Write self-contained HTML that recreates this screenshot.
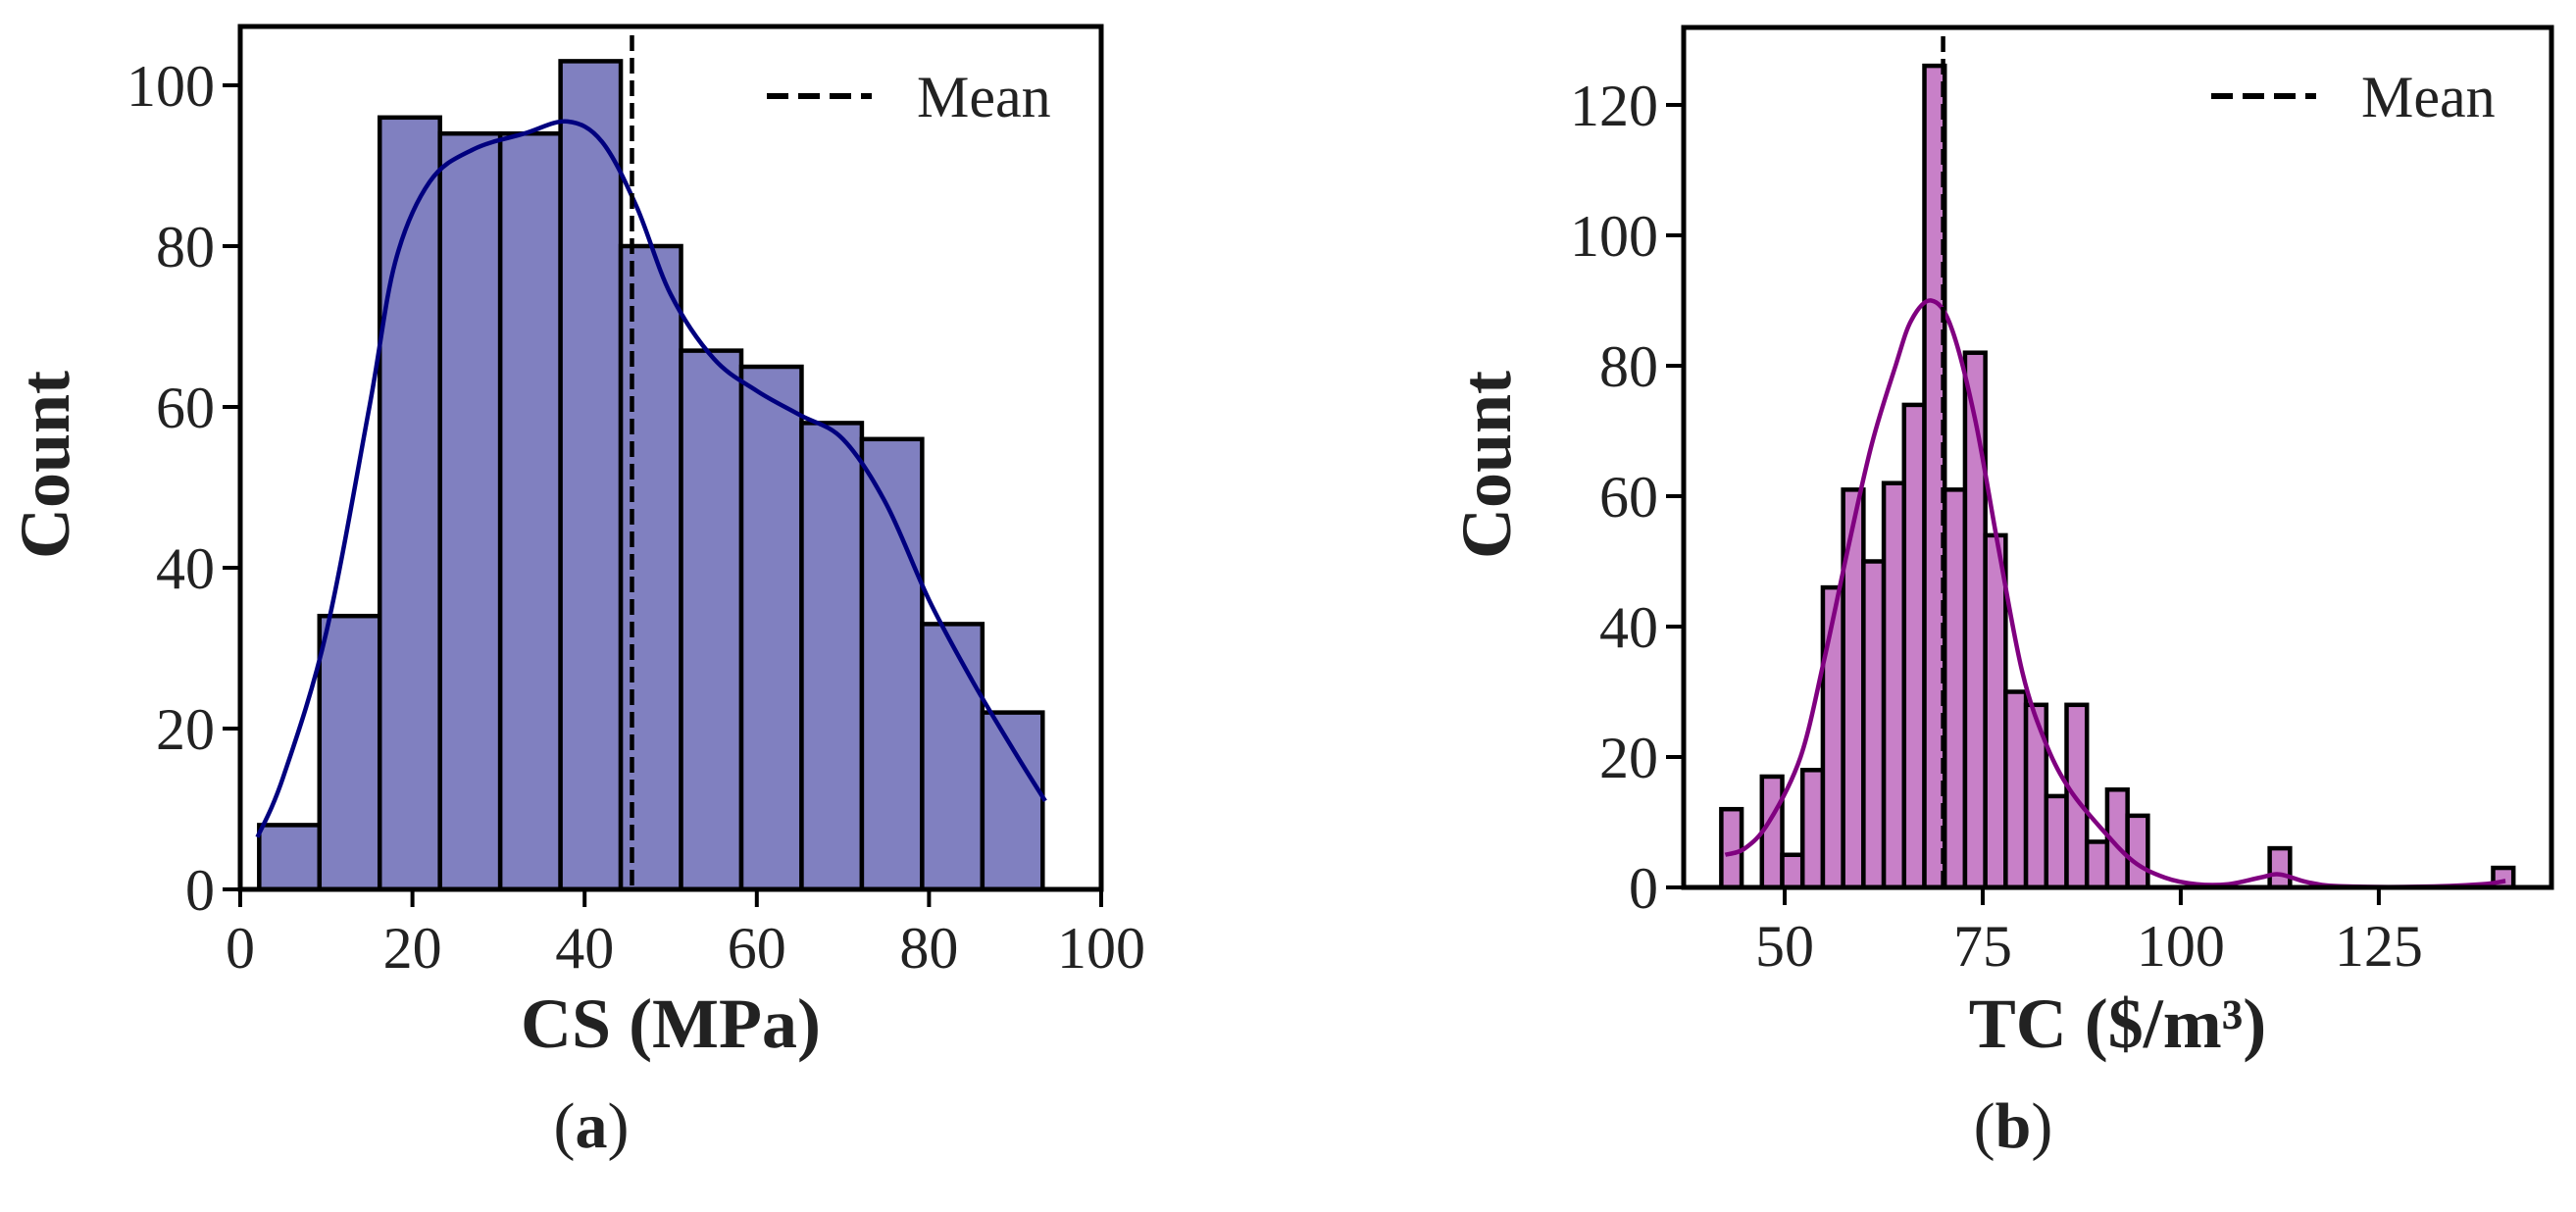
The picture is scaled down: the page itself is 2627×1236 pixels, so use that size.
<!DOCTYPE html>
<html><head><meta charset="utf-8"><style>
html,body{margin:0;padding:0;background:#fff;}
svg{display:block;}
text{font-family:"Liberation Serif","DejaVu Serif",serif;fill:#222;}
</style></head><body>
<svg id="fig" width="2627" height="1236" viewBox="0 0 2627 1236" xmlns="http://www.w3.org/2000/svg">
<g id="pa"></g>
<g id="pb"></g>
</svg>
<script>
// Panel (a) data
const csBinStart = 2.2;
const csBinWidth = 7.0;
const csCounts = [8,34,96,94,94,103,80,67,65,58,56,33,22];
const csKdeX = [2,5,10,15,18,22,27,33,38,42,46,50,55,60,65,70,75,80,85,90,93.5];
const csKdeY = [6.5,14,32,60,78,88,92,94,95.5,93,85,74,66,62,59,56,48,36,26,17,11];
const csMean = 45.5;
const csXTicks = [0,20,40,60,80,100];
const csYTicks = [0,20,40,60,80,100];
// Panel (b) data
const tcBinStart = 42.0;
const tcBinWidth = 2.564;
const tcCounts = [12,0,17,5,18,46,61,50,62,74,126,61,82,54,30,28,14,28,7,15,11,0,0,0,0,0,0,6,0,0,0,0,0,0,0,0,0,0,3];
const tcKdeX = [42.5,45,48,52,55,58,61,64,66,68.5,71,74,77,80,83,86,90,94,98,102,106,110,112.5,116,120,130,138,141];
const tcKdeY = [5,6,10,20,35,52,68,80,87,90,86,72,52,33,22,15,9,4,1.5,0.5,0.5,1.5,2,0.8,0.2,0.1,0.5,1];
const tcMean = 70.0;
const tcXTicks = [50,75,100,125];
const tcYTicks = [0,20,40,60,80,100,120];

const NS = "http://www.w3.org/2000/svg";
function mk(parent, tag, attrs, txt){
  const e = document.createElementNS(NS, tag);
  for (const k in attrs) e.setAttribute(k, attrs[k]);
  if (txt !== undefined) e.textContent = txt;
  parent.appendChild(e);
  return e;
}

function drawPanel(g, cfg){
  const L=cfg.L,R=cfg.R,T=cfg.T,B=cfg.B;
  const sx = v => L + (v-cfg.xmin)/(cfg.xmax-cfg.xmin)*(R-L);
  const sy = v => B - (v-cfg.ymin)/(cfg.ymax-cfg.ymin)*(B-T);
  // bars
  cfg.counts.forEach((c,i)=>{
    if (c<=0) return;
    const x0 = sx(cfg.binStart + i*cfg.binWidth), x1 = sx(cfg.binStart+(i+1)*cfg.binWidth);
    const r = mk(g,'rect',{x:x0,y:sy(c),width:x1-x0,height:sy(0)-sy(c),fill:cfg.fill,stroke:'#000','stroke-width':4.5});
    
    
  });
  // kde
  let d='';
  cfg.kdeX.forEach((x,i)=>{ d += (i?'L':'M') + sx(x).toFixed(1)+','+sy(cfg.kdeY[i]).toFixed(1); });
  // smooth via catmull-rom
  const pts = cfg.kdeX.map((x,i)=>[sx(x),sy(cfg.kdeY[i])]);
  d = 'M'+pts[0][0]+','+pts[0][1];
  for (let i=0;i<pts.length-1;i++){
    const p0=pts[Math.max(0,i-1)],p1=pts[i],p2=pts[i+1],p3=pts[Math.min(pts.length-1,i+2)];
    const c1=[p1[0]+(p2[0]-p0[0])/6,p1[1]+(p2[1]-p0[1])/6];
    const c2=[p2[0]-(p3[0]-p1[0])/6,p2[1]-(p3[1]-p1[1])/6];
    d+=' C'+c1[0].toFixed(1)+','+c1[1].toFixed(1)+' '+c2[0].toFixed(1)+','+c2[1].toFixed(1)+' '+p2[0].toFixed(1)+','+p2[1].toFixed(1);
  }
  const k = mk(g,'path',{d:d,fill:'none',stroke:cfg.kde,'stroke-width':4.5});
  
  
  // mean line
  const m = mk(g,'line',{x1:sx(cfg.mean),x2:sx(cfg.mean),y1:cfg.meanTop,y2:B,stroke:'#000','stroke-width':4.5,'stroke-dasharray':'16,7'});
  
  
  // spines
  const f = mk(g,'rect',{x:L,y:T,width:R-L,height:B-T,fill:'none',stroke:'#000','stroke-width':5});
  
  
  // ticks
  cfg.xTicks.forEach(v=>{
    mk(g,'line',{x1:sx(v),x2:sx(v),y1:B,y2:B+18,stroke:'#000','stroke-width':4});
    const t = mk(g,'text',{x:sx(v),y:B+80,'font-size':60,'text-anchor':'middle'},String(v));
    
    
  });
  cfg.yTicks.forEach(v=>{
    mk(g,'line',{x1:L-18,x2:L,y1:sy(v),y2:sy(v),stroke:'#000','stroke-width':4});
    const t = mk(g,'text',{x:L-26,y:sy(v)+21,'font-size':60,'text-anchor':'end'},String(v));
    
    
  });
  // legend
  const lg = mk(g,'g',{});
  
  
  mk(lg,'line',{x1:cfg.legX,x2:cfg.legX+107,y1:98,y2:98,stroke:'#000','stroke-width':6,'stroke-dasharray':'22,10'});
  mk(lg,'text',{x:cfg.legX+153,y:119,'font-size':60},'Mean');
  // axis labels
  const xl = mk(g,'text',{x:(L+R)/2,y:1068,'font-size':72,'font-weight':'bold','text-anchor':'middle',fill:'#111'},cfg.xlabel);
  
  
  const yl = mk(g,'text',{x:0,y:0,'font-size':72,'font-weight':'bold','text-anchor':'middle',fill:'#111',transform:'translate('+cfg.ylabX+',474) rotate(-90)'},'Count');
  
  
  const cap = mk(g,'text',{x:cfg.capX,y:1170,'font-size':66,'text-anchor':'middle',fill:'#111'});
  
  
  mk(cap,'tspan',{},'(');
  mk(cap,'tspan',{'font-weight':'bold'},cfg.cap);
  mk(cap,'tspan',{},')');
}

drawPanel(document.getElementById('pa'),{
  L:245,R:1123,T:27,B:907,xmin:0,xmax:100,ymin:0,ymax:(907-27)/8.2,
  counts:csCounts,binStart:csBinStart,binWidth:csBinWidth,kdeX:csKdeX,kdeY:csKdeY,
  mean:csMean,meanTop:36,xTicks:csXTicks,yTicks:csYTicks,fill:'#8080c0',kde:'#00007f',
  legX:782,xlabel:'CS (MPa)',ylabX:70,capX:603,cap:'a'
});
drawPanel(document.getElementById('pb'),{
  L:1717,R:2602,T:28,B:905,xmin:37.25,xmax:146.8,ymin:0,ymax:(905-28)/6.65,
  counts:tcCounts,binStart:tcBinStart,binWidth:tcBinWidth,kdeX:tcKdeX,kdeY:tcKdeY,
  mean:tcMean,meanTop:37,xTicks:tcXTicks,yTicks:tcYTicks,fill:'#c880c8',kde:'#800080',
  legX:2255,xlabel:'TC ($/m³)',ylabX:1540,capX:2053,cap:'b'
});
</script>
</body></html>
